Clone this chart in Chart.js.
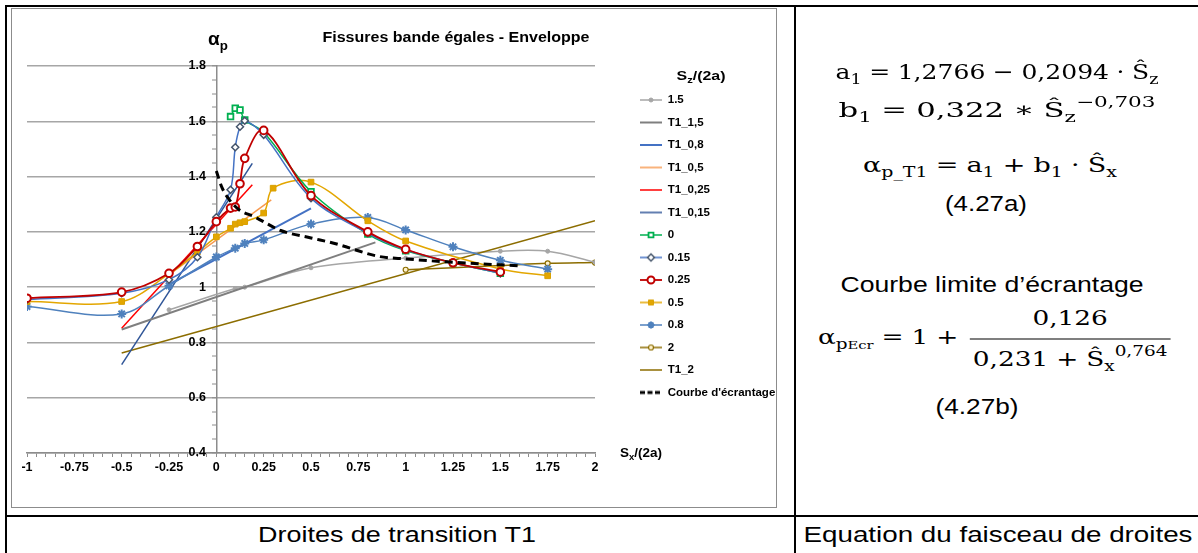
<!DOCTYPE html>
<html lang="fr">
<head>
<meta charset="UTF-8">
<title>Fissures bande égales - Enveloppe</title>
<script src="https://cdn.jsdelivr.net/npm/chart.js@4.4.0/dist/chart.umd.min.js"></script>
<style>
  body { margin: 0; background: #fff; }
  #page { position: relative; width: 1198px; height: 553px; overflow: hidden; font-family: "Liberation Sans", Arial, sans-serif; color: #000; }
  .ln { position: absolute; background: #000; }
  #frame { position: absolute; left: 11px; top: 8px; width: 766px; height: 500px; border: 1px solid #8c8c8c; box-sizing: border-box; }
  #chart { position: absolute; left: 12px; top: 8px; }
  .c { position: absolute; transform: translate(-50%, -50%); white-space: nowrap; }
  .b { font-weight: bold; }
  .sb { font-size: 0.7em; position: relative; top: 0.35em; }
  .sp { font-size: 0.7em; position: relative; top: -0.65em; }
  .math { font-family: "DejaVu Serif", serif; font-size: 21px; }
  .op { margin: 0 0.3em; }
  .cap { font-size: 22px; }
  .frac { display: inline-flex; flex-direction: column; align-items: center; vertical-align: middle; margin-left: 0.15em; }
  .frac .num { padding: 0 0.1em 9px; }
  .frac .den { border-top: 1.5px solid #000; padding: 7px 0.1em 0; }
</style>
</head>
<body>
<div id="page">
  <!-- table borders -->
  <div class="ln" style="left:5px; top:5px; width:1193px; height:2px;"></div>
  <div class="ln" style="left:5px; top:5px; width:2px; height:548px;"></div>
  <div class="ln" style="left:794px; top:5px; width:2px; height:548px;"></div>
  <div class="ln" style="left:5px; top:515px; width:1193px; height:2px;"></div>

  <div id="frame"></div>
  <canvas id="chart" width="765" height="500"></canvas>

  <!-- chart texts -->
  <div class="c b" data-w="267" style="left:455.5px; top:37px; font-size:14px;">Fissures bande égales - Enveloppe</div>
  <div class="c b" style="left:218px; top:39px; font-size:19px;">α<span class="sb">p</span></div>
  <div class="c b" data-w="42" style="left:641px; top:452px; font-size:13px;">S<span class="sb">x</span>/(2a)</div>
  <div class="c b" data-w="49" style="left:700.5px; top:75px; font-size:13px;">S<span class="sb">z</span>/(2a)</div>

  <!-- equations -->
  <div class="c math" data-w="323" style="left:996.5px; top:72px;">a<span class="sb">1</span><span class="op">=</span>1,2766<span class="op">−</span>0,2094<span class="op">·</span>Ŝ<span class="sb">z</span></div>
  <div class="c math" data-w="317" style="left:996.5px; top:110px;">b<span class="sb">1</span><span class="op">=</span>0,322<span class="op">∗</span>Ŝ<span class="sb">z</span><span class="sp">−0,703</span></div>
  <div class="c math" data-w="254" style="left:990px; top:165px;">α<span class="sb">p_T1</span><span class="op">=</span>a<span class="sb">1</span><span class="op">+</span>b<span class="sb">1</span><span class="op">·</span>Ŝ<span class="sb">x</span></div>
  <div class="c cap" data-w="82" style="left:986px; top:204px;">(4.27a)</div>

  <div class="c cap" data-w="303" style="left:991.5px; top:285px;">Courbe limite d’écrantage</div>
  <div class="c math" data-w="352" style="left:994px; top:338px;">α<span class="sb">p<span style="font-size:0.8em">Ecr</span></span><span class="op">=</span>1<span class="op">+</span><span class="frac"><span class="num">0,126</span><span class="den">0,231<span class="op">+</span>Ŝ<span class="sb">x</span><span class="sp">0,764</span></span></span></div>
  <div class="c cap" data-w="83" style="left:976.5px; top:407px;">(4.27b)</div>

  <!-- captions -->
  <div class="c cap" data-w="278" style="left:397px; top:535px;">Droites de transition T1</div>
  <div class="c cap" data-w="389" style="left:997.5px; top:535px;">Equation du faisceau de droites</div>
</div>

<script>
// ---- data (x = Sx/(2a), y = alpha_p) ----
const x15 = [-0.25, 0.1, 0.15, 0.5, 1, 1.5, 1.75, 2];
const y15 = [0.918, 0.995, 1.0, 1.07, 1.105, 1.13, 1.13, 1.09];

const xT15 = [-0.5, 0.84];
const yT15 = [0.847, 1.162];
const xT08 = [-0.25, 0.5];
const yT08 = [1.01, 1.285];
const xT05 = [-0.25, 0.29];
const yT05 = [1.045, 1.316];
const xT025 = [-0.5, 0.19];
const yT025 = [0.851, 1.37];
const xT015 = [-0.5, 0.19];
const yT015 = [0.72, 1.448];

const x0 = [0.075, 0.1, 0.125, 0.15, 0.25, 0.5, 0.8, 1, 1.25, 1.5];
const y0 = [1.617, 1.647, 1.641, 1.605, 1.56, 1.345, 1.192, 1.132, 1.088, 1.05];

const x015 = [-1, -0.5, -0.25, -0.1, 0, 0.075, 0.1, 0.125, 0.15, 0.25, 0.5, 0.8, 1, 1.25, 1.5];
const y015 = [0.955, 0.978, 1.027, 1.108, 1.253, 1.352, 1.506, 1.58, 1.602, 1.551, 1.322, 1.195, 1.135, 1.088, 1.05];

const x025 = [-1, -0.5, -0.25, -0.1, 0, 0.075, 0.1, 0.125, 0.15, 0.25, 0.5, 0.8, 1, 1.25, 1.5];
const y025 = [0.96, 0.982, 1.05, 1.147, 1.237, 1.286, 1.29, 1.374, 1.466, 1.567, 1.331, 1.2, 1.137, 1.088, 1.055];

const x05 = [-1, -0.5, -0.25, -0.1, 0, 0.075, 0.1, 0.125, 0.15, 0.25, 0.3, 0.5, 0.8, 1, 1.5, 1.75];
const y05 = [0.948, 0.948, 1.048, 1.127, 1.182, 1.213, 1.228, 1.233, 1.237, 1.268, 1.358, 1.38, 1.24, 1.167, 1.066, 1.041];

const x08 = [-1, -0.5, -0.25, 0, 0.1, 0.15, 0.25, 0.5, 0.8, 1, 1.25, 1.5, 1.75];
const y08 = [0.93, 0.903, 1.005, 1.109, 1.141, 1.158, 1.171, 1.228, 1.252, 1.207, 1.146, 1.097, 1.065];

const x2 = [1, 1.5, 1.75, 2];
const y2 = [1.063, 1.078, 1.086, 1.089];

const xT2 = [-0.5, 2];
const yT2 = [0.762, 1.24];

const xEcr = [0, 0.03, 0.07, 0.12, 0.2, 0.34, 0.5, 0.62, 0.86, 1, 1.25, 1.4, 1.6];
const yEcr = [1.42, 1.36, 1.315, 1.28, 1.255, 1.205, 1.178, 1.159, 1.111, 1.102, 1.09, 1.084, 1.077];

const xTickLabelStep = 0.25;
const yTickLabelStep = 0.2;

function pts(xs, ys) { return xs.map((x, i) => ({ x: x, y: ys[i] })); }
function onStep(v, step) { const q = v / step; return Math.abs(q - Math.round(q)) < 1e-6; }

// stretch the html texts to the widths they have in the picture
function fitTexts() {
  document.querySelectorAll('[data-w]').forEach(el => {
    el.style.transform = 'translate(-50%, -50%)';
    const k = +el.dataset.w / el.getBoundingClientRect().width;
    el.style.transform = 'translate(-50%, -50%) scaleX(' + k.toFixed(3) + ')';
  });
}
fitTexts();
if (document.fonts) document.fonts.ready.then(fitTexts);

const font = "'Liberation Sans', Arial, sans-serif";
Chart.defaults.font.family = font;
Chart.defaults.color = '#000';

// straight T1 lines
function straight(label, xs, ys, color, width, order) {
  return { label, data: pts(xs, ys), borderColor: color, backgroundColor: color, borderWidth: width,
           pointRadius: 0, pointHoverRadius: 0, showLine: true, tension: 0, order };
}
// smoothed curves with markers
function curve(label, xs, ys, color, width, style, radius, mColor, mFill, mWidth, order) {
  return { label, data: pts(xs, ys), borderColor: color, backgroundColor: mFill, borderWidth: width,
           pointStyle: style, pointRadius: radius, pointHoverRadius: radius,
           pointBorderColor: mColor, pointBackgroundColor: mFill, pointBorderWidth: mWidth,
           showLine: true, tension: 0.35, order };
}

const datasets = [
  curve('1.5', x15, y15, '#A6A6A6', 1.5, 'circle', 2, '#A6A6A6', '#A6A6A6', 1, 8),
  straight('T1_1,5', xT15, yT15, '#7F7F7F', 2, 7),
  straight('T1_0,8', xT08, yT08, '#4472C4', 2, 7),
  straight('T1_0,5', xT05, yT05, '#F79A50', 1.5, 7),
  straight('T1_0,25', xT025, yT025, '#FF0000', 1.5, 7),
  straight('T1_0,15', xT015, yT015, '#2F5597', 1.5, 7),
  curve('0', x0, y0, '#00B050', 1.5, 'rect', 4, '#00B050', '#FFFFFF', 1.8, 4),
  curve('0.15', x015, y015, '#4472C4', 1.5, 'rectRot', 3.5, '#44546A', '#FFFFFF', 1.5, 3),
  curve('0.25', x025, y025, '#C00000', 1.8, 'circle', 3.8, '#C00000', '#FFFFFF', 2, 2),
  curve('0.5', x05, y05, '#E3A600', 1.5, 'rect', 4, '#D9A000', '#E3A600', 1, 5),
  curve('0.8', x08, y08, '#4F81BD', 1.5, 'star', 4.5, '#4F81BD', '#4F81BD', 2, 6),
  curve('2', x2, y2, '#8C6D00', 1.5, 'circle', 2.5, '#8C6D00', '#FFF2CC', 1.2, 8),
  straight('T1_2', xT2, yT2, '#8C6D00', 1.5, 7),
  Object.assign(straight("Courbe d'écrantage", xEcr, yEcr, '#000000', 3, 1),
                { borderDash: [8, 5], tension: 0.3, cubicInterpolationMode: 'monotone' })
];

// small line+marker sample for each legend entry
function legendSample(ds) {
  const cv = document.createElement('canvas');
  cv.width = 22; cv.height = 12;
  const g = cv.getContext('2d');
  g.strokeStyle = ds.borderColor;
  g.lineWidth = ds.borderWidth;
  g.setLineDash(ds.borderDash ? [5, 2.5] : []);
  g.beginPath(); g.moveTo(0, 6); g.lineTo(22, 6); g.stroke();
  g.setLineDash([]);
  if (ds.pointRadius > 0) {
    g.fillStyle = ds.pointBackgroundColor;
    g.strokeStyle = ds.pointBorderColor;
    g.lineWidth = ds.pointBorderWidth;
    Chart.helpers.drawPoint(g, { pointStyle: ds.pointStyle, radius: Math.min(ds.pointRadius, 3.5), rotation: 0, borderWidth: ds.pointBorderWidth }, 11, 6);
  }
  return cv;
}

new Chart(document.getElementById('chart'), {
  type: 'scatter',
  data: { datasets },
  options: {
    responsive: false,
    animation: false,
    events: [],
    layout: { padding: { left: 15, top: 58, right: 0, bottom: 35 } },
    plugins: {
      title: { display: false },
      tooltip: { enabled: false },
      legend: {
        position: 'right',
        align: 'start',
        maxWidth: 148,
        title: { display: true, text: ' ', font: { size: 12 }, padding: { top: 0, bottom: 2.85 } },
        labels: {
          usePointStyle: true,
          pointStyleWidth: 22,
          boxHeight: 11,
          padding: 11,
          color: '#000',
          font: { size: 11.5, weight: 'bold' },
          sort: (a, b) => a.datasetIndex - b.datasetIndex,
          generateLabels(chart) {
            const items = Chart.defaults.plugins.legend.labels.generateLabels(chart);
            items.forEach(it => { it.pointStyle = legendSample(chart.data.datasets[it.datasetIndex]); });
            return items;
          }
        }
      }
    },
    scales: {
      x: {
        type: 'linear',
        min: -1, max: 2,
        afterFit(s) { s.height = 20; },
        border: { color: '#8C8C8C', width: 1.5 },
        grid: { drawOnChartArea: false, tickLength: 4, tickColor: '#8C8C8C', tickWidth: 1 },
        ticks: {
          stepSize: 0.05, autoSkip: false, maxRotation: 0, padding: 3,
          font: { size: 12.5, weight: 'bold' },
          callback: v => onStep(v, xTickLabelStep) ? String(+v.toFixed(2)) : ''
        }
      },
      y: {
        type: 'linear',
        position: { x: 0 },
        min: 0.4, max: 1.8,
        border: { color: '#8C8C8C', width: 1.5 },
        grid: {
          tickLength: 4, tickColor: '#8C8C8C', tickWidth: 1,
          color: c => onStep(c.tick.value, yTickLabelStep) ? '#A6A6A6' : 'rgba(0,0,0,0)',
          lineWidth: c => onStep(c.tick.value, yTickLabelStep) ? 1.5 : 0
        },
        ticks: {
          stepSize: 0.05, autoSkip: false,
          font: { size: 12.5, weight: 'bold' },
          // labels of an axis placed at x = 0 sit against the line: trailing spaces move them left
          callback: v => onStep(v, yTickLabelStep) ? String(+v.toFixed(1)) + '   ' : ''
        }
      },
      gap: {
        type: 'linear',
        position: 'right',
        afterFit(s) { s.width = 34; },
        grid: { display: false },
        border: { display: false },
        ticks: { display: false }
      }
    }
  }
});
</script>
</body>
</html>
